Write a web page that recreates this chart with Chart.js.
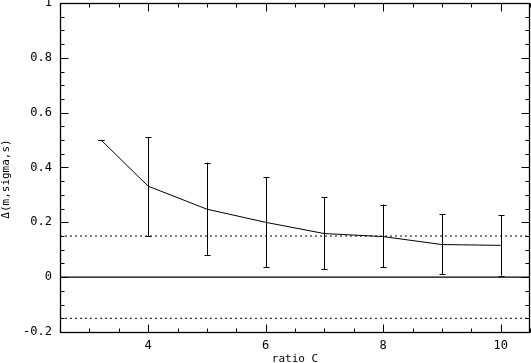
<!DOCTYPE html>
<html>
<head>
<meta charset="utf-8">
<script src="https://cdn.jsdelivr.net/npm/chart.js@4.4.1/dist/chart.umd.min.js"></script>
<style>
html,body{margin:0;padding:0;background:#fff;}
#wrap{width:531px;height:363px;position:relative;}
</style>
</head>
<body>
<div id="wrap"><canvas id="c" width="531" height="363"></canvas></div>
<script>
// ---- data ----
const ratioC   = [3.2, 4, 5, 6, 7, 8, 9, 10];
const deltaVal = [0.5, 0.332, 0.248, 0.2, 0.159, 0.148, 0.119, 0.116];
const errLow   = [0.5, 0.15, 0.08, 0.036, 0.028, 0.036, 0.01, 0.006];
const errHigh  = [0.5, 0.511, 0.418, 0.364, 0.291, 0.265, 0.229, 0.225];
const refSolid = [0];
const refDotted = [0.15, -0.15];
const xTickLabels = [4, 6, 8, 10];
const yTickLabels = [-0.2, 0, 0.2, 0.4, 0.6, 0.8, 1];
const xRange = [2.5, 10.5];
const yRange = [-0.2, 1];
const xTitle = 'ratio C';
const yTitle = 'Δ(m,sigma,s)';

const FONT = '"DejaVu Sans Mono", "Liberation Mono", monospace';

const datasets = [{
  label: 'delta',
  data: ratioC.map((x, i) => ({x: x, y: deltaVal[i]})),
  borderColor: '#000', borderWidth: 1, pointRadius: 0, showLine: true, tension: 0
}];
refSolid.forEach(v => datasets.push({
  data: [{x: xRange[0], y: v}, {x: xRange[1], y: v}],
  borderColor: '#000', borderWidth: 1.3, pointRadius: 0, showLine: true
}));
refDotted.forEach(v => datasets.push({
  data: [{x: xRange[0], y: v}, {x: xRange[1], y: v}],
  borderColor: '#000', borderWidth: 1, borderDash: [2, 3], pointRadius: 0, showLine: true
}));

const framePlugin = {
  id: 'frame',
  afterDatasetsDraw(chart) {
    const ctx = chart.ctx, xs = chart.scales.x, ys = chart.scales.y, a = chart.chartArea;
    ctx.save();
    ctx.strokeStyle = '#000';
    ctx.lineWidth = 1;
    // error bars
    ratioC.forEach((x, i) => {
      const px = Math.round(xs.getPixelForValue(x)) + 0.5;
      const pl = ys.getPixelForValue(errLow[i]);
      const ph = ys.getPixelForValue(errHigh[i]);
      ctx.beginPath();
      ctx.moveTo(px, pl); ctx.lineTo(px, ph);
      ctx.moveTo(px - 3, Math.round(pl) + 0.5); ctx.lineTo(px + 3, Math.round(pl) + 0.5);
      ctx.moveTo(px - 3, Math.round(ph) + 0.5); ctx.lineTo(px + 3, Math.round(ph) + 0.5);
      ctx.stroke();
    });
    // box
    const L = Math.round(a.left) + 0.5, R = Math.round(a.right) - 0.5;
    const T = Math.round(a.top) + 0.5, B = Math.round(a.bottom) + 0.5;
    ctx.lineWidth = 1.3;
    ctx.strokeRect(L, T, R - L, B - T);
    ctx.lineWidth = 1;
    ctx.beginPath();
    // x ticks every 0.5, major at labels
    for (let v = xRange[0]; v <= xRange[1] + 1e-9; v += 0.5) {
      const px = Math.round(xs.getPixelForValue(v)) + 0.5;
      const len = xTickLabels.includes(v) ? 8 : 4;
      ctx.moveTo(px, B); ctx.lineTo(px, B - len);
      ctx.moveTo(px, T); ctx.lineTo(px, T + len);
    }
    // y ticks every 0.05, major every 0.2
    for (let k = 0; k <= 24; k++) {
      const v = yRange[0] + k * 0.05;
      const py = Math.round(ys.getPixelForValue(v)) + 0.5;
      const len = (k % 4 === 0) ? 8 : 4;
      ctx.moveTo(L, py); ctx.lineTo(L + len, py);
      ctx.moveTo(R, py); ctx.lineTo(R - len, py);
    }
    ctx.stroke();
    // titles
    ctx.fillStyle = '#000';
    ctx.font = '11px ' + FONT;
    ctx.textAlign = 'center';
    ctx.textBaseline = 'middle';
    ctx.fillText(xTitle, (a.left + a.right) / 2, 359);
    ctx.translate(6, 179);
    ctx.rotate(-Math.PI / 2);
    ctx.fillText(yTitle, 0, 0);
    ctx.restore();
  }
};

function noPad(s) {
  s.paddingTop = 0; s.paddingBottom = 0; s.paddingLeft = 0; s.paddingRight = 0;
}

new Chart(document.getElementById('c'), {
  type: 'scatter',
  data: {datasets},
  options: {
    responsive: false,
    animation: false,
    devicePixelRatio: 1,
    layout: {padding: {left: 0, right: 1, top: 3, bottom: 0}},
    plugins: {legend: {display: false}, tooltip: {enabled: false}},
    scales: {
      x: {
        type: 'linear', min: xRange[0], max: xRange[1],
        grid: {display: false}, border: {display: false},
        afterBuildTicks: s => { s.ticks = xTickLabels.map(v => ({value: v})); },
        afterFit: s => { s.height = 31; noPad(s); },
        ticks: {color: '#000', font: {family: FONT, size: 12}, padding: -1, maxRotation: 0,
                callback: v => String(v)}
      },
      y: {
        type: 'linear', min: yRange[0], max: yRange[1],
        grid: {display: false}, border: {display: false},
        afterBuildTicks: s => { s.ticks = yTickLabels.map(v => ({value: v})); },
        afterFit: s => { s.width = 60; noPad(s); },
        ticks: {color: '#000', font: {family: FONT, size: 12}, padding: 0,
                callback: v => String(Math.round(v * 10) / 10)}
      }
    }
  },
  plugins: [framePlugin]
});
</script>
</body>
</html>
